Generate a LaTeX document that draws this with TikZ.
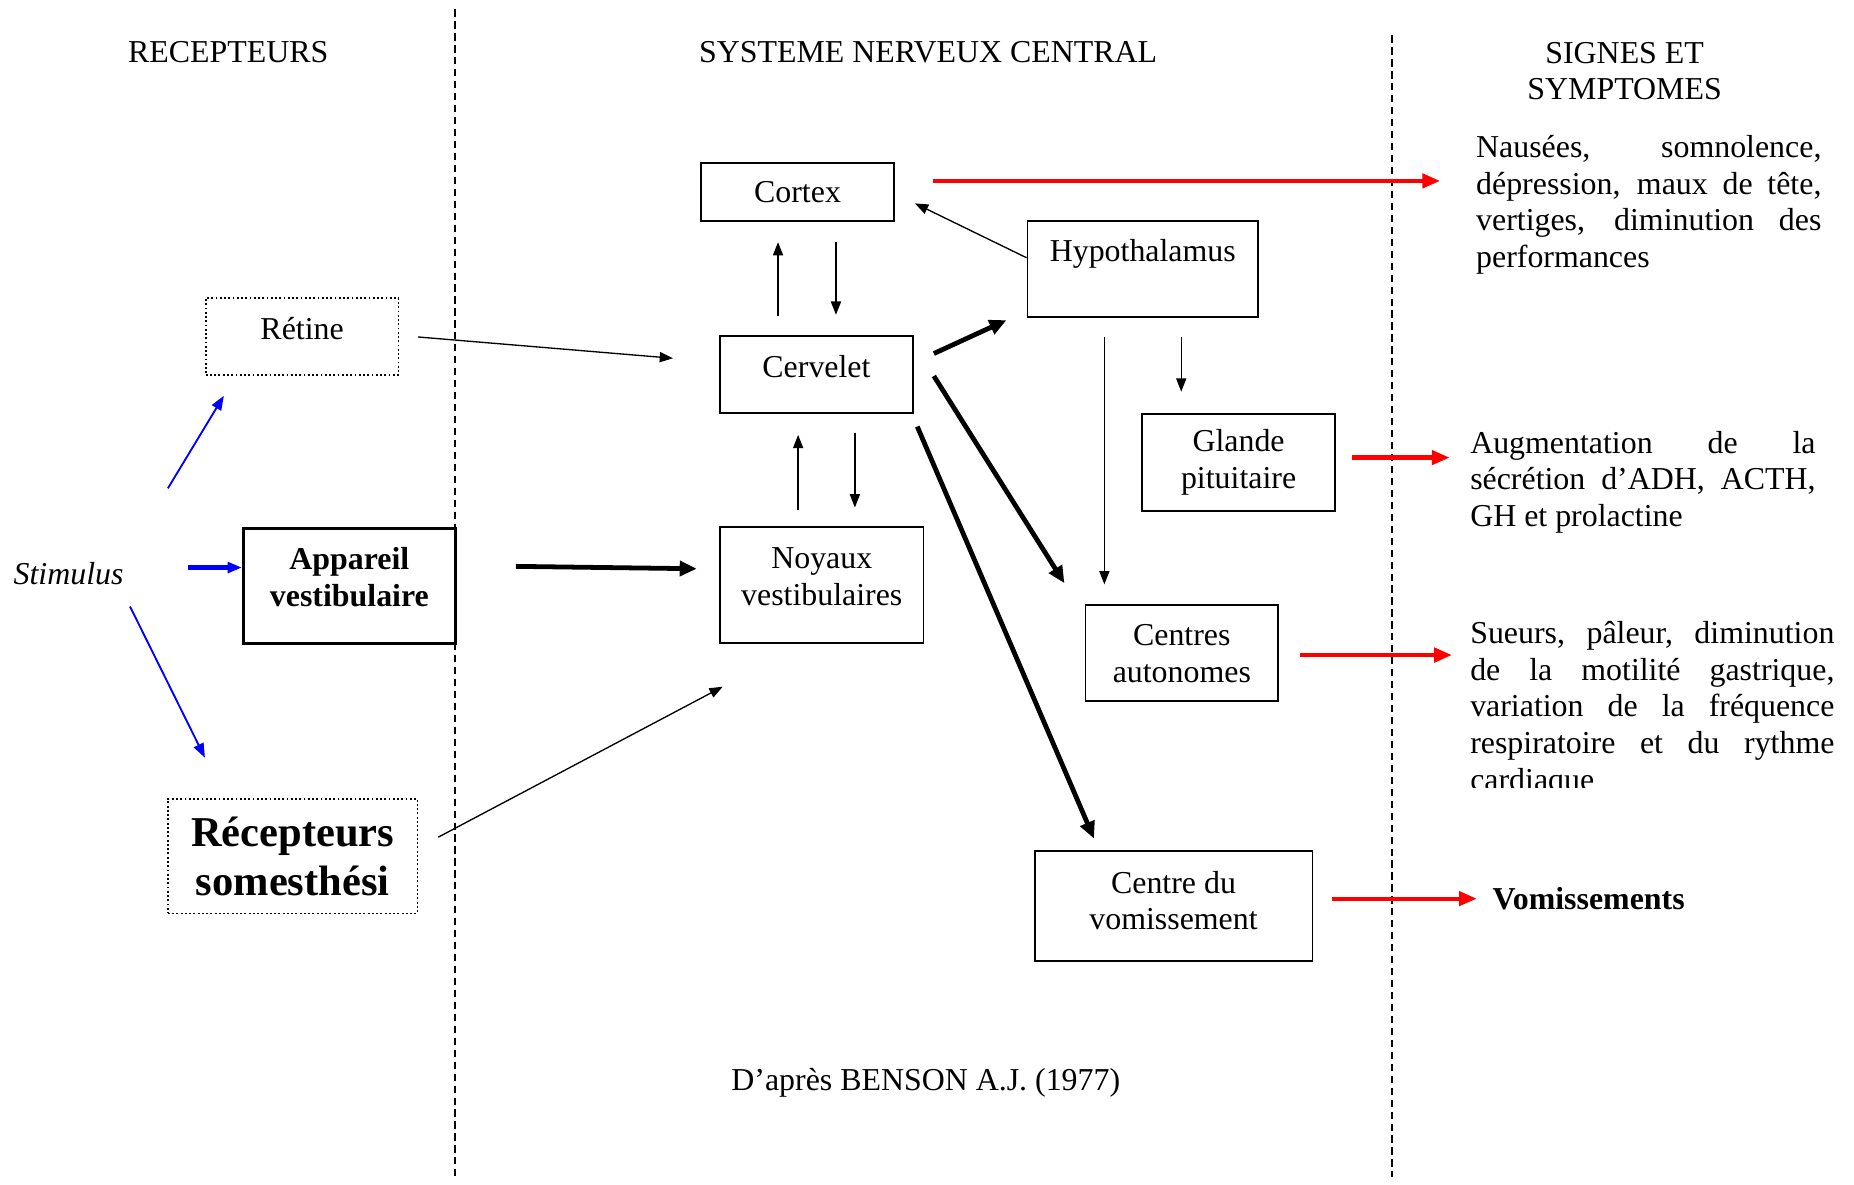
\documentclass[tikz,border=0pt]{standalone}
\usepackage{fontspec}
\setmainfont{Liberation Serif}
\usepackage{tikz}
\usetikzlibrary{arrows.meta}

\newcommand{\ux}{0.445pt}

\begin{document}
\begin{tikzpicture}[
x=\ux, y=-\ux,
font=\fontsize{12}{13.8}\selectfont,
size/.style 2 args={minimum width=#1*\ux, minimum height=#2*\ux},
box/.style={draw, line width=0.7pt, align=center, inner sep=0pt},
up/.style={text depth=#1},
dotbox/.style={box, line width=0.6pt, dash pattern=on 0.7pt off 0.9pt},
sep/.style={line width=0.6pt, dash pattern=on 2.7pt off 1.8pt},
arrow/.style={-{Triangle[length=5pt,width=3.8pt]}, line width=0.5pt},
bigarrow/.style={-{Triangle[length=6.4pt,width=5.6pt]}, line width=1.8pt},
redarrow/.style={-{Triangle[length=6.7pt,width=5.3pt]}, line width=1.6pt, red},
bluearrow/.style={-{Triangle[length=5.4pt,width=4pt]}, line width=0.7pt, blue},
symptom/.style={anchor=north west, inner sep=0pt, text width=#1*\ux, align=justify}
]
\useasboundingbox (0,0) rectangle (1568,1002);

% column separators
\draw[sep] (385,8) -- (385,995);
\draw[sep] (1177,30) -- (1177,995);

% column titles
\node (titrecep) at (193,44) {RECEPTEURS};
\node (titsnc) at (785,44) {SYSTEME NERVEUX CENTRAL};
\node[align=center] (titsign) at (1374,60) {SIGNES ET\\SYMPTOMES};

% receptors
\node[font=\fontsize{12}{13.8}\selectfont\itshape] (stimulus) at (58,485) {Stimulus};
\node[dotbox, size={163}{65}, up=6pt] (retine) at (255.5,284.5) {Rétine};
\node[box, line width=1.2pt, size={179}{97}, up=6.7pt, font=\fontsize{12}{13.8}\selectfont\bfseries] (appareil) at (295.5,495.5) {Appareil\\vestibulaire};
\node[dotbox, size={211}{97}, font=\fontsize{16}{18.5}\selectfont\bfseries] (recept) at (247.5,724) {Récepteurs\\somesthési};

% central nervous system
\node[box, size={163}{49}] (cortex) at (674.5,162.5) {Cortex};
\node[box, size={163}{65}, up=6pt] (cervelet) at (690.5,316.5) {Cervelet};
\node[box, size={195}{81}] (hypo) at (966.5,227.5) {Hypothalamus\\~};
\node[box, size={172}{98}, up=6.7pt] (noyaux) at (695,495) {Noyaux\\vestibulaires};
\node[box, size={163}{82}] (glande) at (1047.5,391) {Glande\\pituitaire};
\node[box, size={163}{81}] (centres) at (999.5,552.5) {Centres\\autonomes};
\node[box, size={235}{93}, up=4.5pt] (vomiss) at (992.5,766.5) {Centre du\\vomissement};

% signs and symptoms
\node[symptom=292] (sympt1) at (1248,111) {\tolerance=10000\hyphenpenalty=10000\strut Nausées, somnolence,\linebreak dépression, maux de tête,\linebreak vertiges, diminution des\linebreak performances\par};
\node[symptom=292] (sympt2) at (1243,361) {\tolerance=10000\hyphenpenalty=10000\strut Augmentation de la\linebreak sécrétion d’ADH, ACTH,\linebreak GH et prolactine\par};
\begin{scope}
\clip (1230,505) rectangle (1568,666);
\node[symptom=308] (sympt3) at (1243,522) {\tolerance=10000\hyphenpenalty=10000\strut Sueurs, pâleur, diminution\linebreak de la motilité gastrique,\linebreak variation de la fréquence\linebreak respiratoire et du rythme\linebreak cardiaque\par};
\end{scope}
\node[anchor=west, inner sep=0pt, font=\fontsize{12}{13.8}\selectfont\bfseries] (vomit) at (1262,760) {Vomissements};

\node (source) at (783,916) {D’après BENSON A.J. (1977)};

% stimulus arrows
\draw[bluearrow] ([shift={(84,-72)}]stimulus.center) -- ([shift={(16,17)}]retine.south west);
\draw[bluearrow, line width=1.8pt] ([shift={(101,-5)}]stimulus.center) -- ([shift={(0,-15.5)}]appareil.west);
\draw[bluearrow] ([shift={(52,28)}]stimulus.center) -- ([shift={(32,-34)}]recept.north west);

% afferents
\draw[arrow] ([shift={(16,0.5)}]retine.east) -- ([shift={(-39,-13.5)}]cervelet.west);
\draw[arrow] ([shift={(17,-16)}]recept.east) -- ([shift={(3,36)}]noyaux.south west);
\draw[bigarrow] ([shift={(50,-16.5)}]appareil.east) -- ([shift={(-19,-14)}]noyaux.west);

% loops
\draw[arrow] ([shift={(-32.5,-16)}]cervelet.north) -- ([shift={(-16.5,17)}]cortex.south);
\draw[arrow] ([shift={(32.5,17)}]cortex.south) -- ([shift={(16.5,-17)}]cervelet.north);
\draw[arrow] ([shift={(-20,-14)}]noyaux.north) -- ([shift={(-15.5,18)}]cervelet.south);
\draw[arrow] ([shift={(32.5,16)}]cervelet.south) -- ([shift={(28,-16)}]noyaux.north);
\draw[arrow] ([shift={(0,-9.5)}]hypo.west) -- ([shift={(17,9.5)}]cortex.east);
\draw[arrow] ([shift={(-32.5,16)}]hypo.south) -- ([shift={(-65.5,-17)}]centres.north);
\draw[arrow] ([shift={(32.5,16)}]hypo.south) -- ([shift={(-48.5,-18)}]glande.north);

% cerebellum outputs
\draw[bigarrow] ([shift={(17,-17.5)}]cervelet.east) -- ([shift={(-17,2)}]hypo.south west);
\draw[bigarrow] ([shift={(17,1.5)}]cervelet.east) -- ([shift={(-17,-18)}]centres.north west);
\draw[bigarrow] ([shift={(3,11)}]cervelet.south east) -- ([shift={(51,-10)}]vomiss.north west);

% effects
\draw[redarrow] ([shift={(32,-9.5)}]cortex.east) -- ([shift={(-30,42)}]sympt1.north west);
\draw[redarrow] ([shift={(14,-4)}]glande.east) -- ([shift={(-17,26)}]sympt2.north west);
\draw[redarrow] ([shift={(18,1.5)}]centres.east) -- ([shift={(-15,32)}]sympt3.north west);
\draw[redarrow] ([shift={(16,-6.5)}]vomiss.east) -- ([shift={(-13,0)}]vomit.west);
\end{tikzpicture}
\end{document}
